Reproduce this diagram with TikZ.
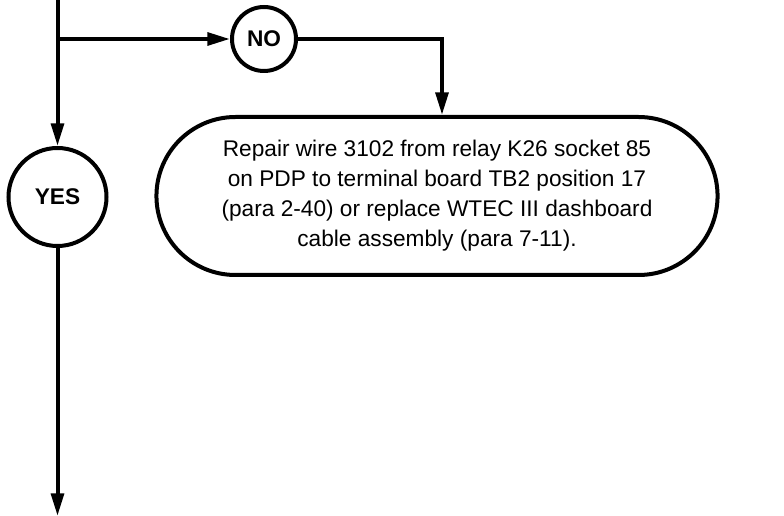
\documentclass[tikz,border=0pt]{standalone}
\usepackage{fontspec}
\setmainfont{Liberation Sans}
\usetikzlibrary{arrows.meta,positioning,shapes.misc}
\tikzset{
  decnode/.style={circle,draw,line width=3pt,inner sep=0pt,font=\fontsize{17}{20}\selectfont\bfseries},
  actblk/.style={rounded rectangle,draw,line width=3pt,align=center,minimum width=427.5pt,minimum height=118.5pt,font=\fontsize{17}{22.5}\selectfont},
  lne/.style={line width=3pt},
  arr/.style={lne,-{Triangle[length=17pt,width=9.5pt]}}
}
\begin{document}
\begin{tikzpicture}[x=0.75pt,y=-0.75pt]
  \useasboundingbox (0,0) rectangle (784,516);
  \coordinate (top) at (57.5,0);
  \coordinate (split) at (57.5,39);
  \node[decnode, minimum size=48pt] (no) at (264,39) {NO};
  \node[decnode, minimum size=73.5pt] (yes) at (57.5,197) {YES};
  \node[actblk] (repair) at (437,196) {Repair wire 3102 from relay K26 socket 85\\
    on PDP to terminal board TB2 position 17\\
    (para 2-40) or replace WTEC III dashboard\\
    cable assembly (para 7-11).};
  \coordinate (turn) at (442,39);
  \coordinate (bottom) at (57.5,516);

  \draw[arr] (top)--(yes);
  \draw[arr] (split)--(no);
  \draw[arr] (no)--(turn)--(turn |- repair.north);
  \draw[arr] (yes)--(bottom);
\end{tikzpicture}
\end{document}
